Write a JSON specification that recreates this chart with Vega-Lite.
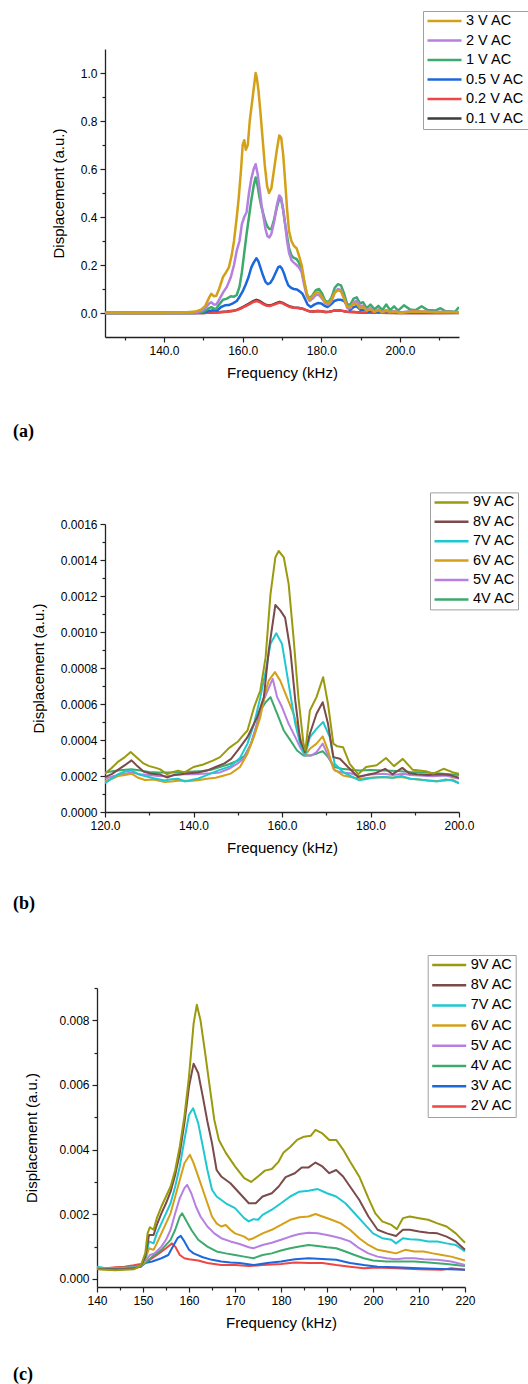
{
"$schema": "https://vega.github.io/schema/vega-lite/v6.json",
"background": "white",
"padding": {"left": 13, "top": 10, "right": 0, "bottom": 0},
"config": {
  "view": {"stroke": null},
  "font": "Liberation Sans",
  "axis": {"grid": false, "domainColor": "#222222", "domainWidth": 1.3, "tickColor": "#222222", "tickWidth": 1.2,
    "labelFont": "Liberation Sans", "labelFontSize": 12, "labelColor": "#000000", "labelPadding": 3,
    "titleFont": "Liberation Sans", "titleFontSize": 15, "titleFontWeight": "normal", "titleColor": "#000000",
    "labelFlush": false, "labelOverlap": false, "labelBound": false},
  "axisX": {"titlePadding": 9},
  "axisY": {"titlePadding": 14},
  "legend": {"symbolType": "stroke", "symbolSize": 1156, "symbolStrokeWidth": 2.5, "clipHeight": 14,
    "labelFont": "Liberation Sans", "labelFontSize": 14.5, "labelColor": "#000000", "labelOffset": 3,
    "padding": 3, "strokeColor": "#a0a0a0", "fillColor": "#ffffff", "labelLimit": 300}
},
"datasets": {
"a": [
{"s":"0.1 V AC","f":125,"v":0},{"s":"0.1 V AC","f":135,"v":0},{"s":"0.1 V AC","f":145,"v":0},{"s":"0.1 V AC","f":150,"v":0},{"s":"0.1 V AC","f":152,"v":0.002},{"s":"0.1 V AC","f":154,"v":0.003},{"s":"0.1 V AC","f":156,"v":0.006},{"s":"0.1 V AC","f":157.5,"v":0.009},{"s":"0.1 V AC","f":158.5,"v":0.013},{"s":"0.1 V AC","f":159.5,"v":0.02},{"s":"0.1 V AC","f":160.5,"v":0.029},{"s":"0.1 V AC","f":161.5,"v":0.038},{"s":"0.1 V AC","f":162.5,"v":0.048},{"s":"0.1 V AC","f":163.5,"v":0.055},{"s":"0.1 V AC","f":164.3,"v":0.05},{"s":"0.1 V AC","f":165.2,"v":0.04},{"s":"0.1 V AC","f":166,"v":0.033},{"s":"0.1 V AC","f":166.8,"v":0.031},{"s":"0.1 V AC","f":167.6,"v":0.035},{"s":"0.1 V AC","f":168.5,"v":0.041},{"s":"0.1 V AC","f":169.4,"v":0.046},{"s":"0.1 V AC","f":170.2,"v":0.042},{"s":"0.1 V AC","f":171,"v":0.035},{"s":"0.1 V AC","f":172,"v":0.027},{"s":"0.1 V AC","f":173,"v":0.023},{"s":"0.1 V AC","f":174,"v":0.022},{"s":"0.1 V AC","f":175,"v":0.019},{"s":"0.1 V AC","f":176,"v":0.013},{"s":"0.1 V AC","f":177,"v":0.007},{"s":"0.1 V AC","f":178,"v":0.006},{"s":"0.1 V AC","f":179,"v":0.008},{"s":"0.1 V AC","f":180,"v":0.007},{"s":"0.1 V AC","f":181,"v":0.004},{"s":"0.1 V AC","f":182,"v":0.005},{"s":"0.1 V AC","f":183,"v":0.009},{"s":"0.1 V AC","f":184,"v":0.011},{"s":"0.1 V AC","f":185,"v":0.01},{"s":"0.1 V AC","f":186.5,"v":0.005},{"s":"0.1 V AC","f":188,"v":0.004},{"s":"0.1 V AC","f":190,"v":0.002},{"s":"0.1 V AC","f":195,"v":0.001},{"s":"0.1 V AC","f":200,"v":0},{"s":"0.1 V AC","f":205,"v":0.001},{"s":"0.1 V AC","f":210,"v":0},{"s":"0.1 V AC","f":215,"v":0},
{"s":"0.2 V AC","f":125,"v":0},{"s":"0.2 V AC","f":135,"v":0},{"s":"0.2 V AC","f":145,"v":0},{"s":"0.2 V AC","f":150,"v":0},{"s":"0.2 V AC","f":152,"v":0.002},{"s":"0.2 V AC","f":154,"v":0.003},{"s":"0.2 V AC","f":156,"v":0.005},{"s":"0.2 V AC","f":157.5,"v":0.008},{"s":"0.2 V AC","f":158.5,"v":0.012},{"s":"0.2 V AC","f":159.5,"v":0.018},{"s":"0.2 V AC","f":160.5,"v":0.027},{"s":"0.2 V AC","f":161.5,"v":0.035},{"s":"0.2 V AC","f":162.5,"v":0.044},{"s":"0.2 V AC","f":163.5,"v":0.05},{"s":"0.2 V AC","f":164.3,"v":0.046},{"s":"0.2 V AC","f":165.2,"v":0.037},{"s":"0.2 V AC","f":166,"v":0.031},{"s":"0.2 V AC","f":166.8,"v":0.029},{"s":"0.2 V AC","f":167.6,"v":0.033},{"s":"0.2 V AC","f":168.5,"v":0.038},{"s":"0.2 V AC","f":169.4,"v":0.043},{"s":"0.2 V AC","f":170.2,"v":0.04},{"s":"0.2 V AC","f":171,"v":0.033},{"s":"0.2 V AC","f":172,"v":0.025},{"s":"0.2 V AC","f":173,"v":0.022},{"s":"0.2 V AC","f":174,"v":0.021},{"s":"0.2 V AC","f":175,"v":0.019},{"s":"0.2 V AC","f":176,"v":0.013},{"s":"0.2 V AC","f":177,"v":0.007},{"s":"0.2 V AC","f":178,"v":0.006},{"s":"0.2 V AC","f":179,"v":0.008},{"s":"0.2 V AC","f":180,"v":0.007},{"s":"0.2 V AC","f":181,"v":0.004},{"s":"0.2 V AC","f":182,"v":0.005},{"s":"0.2 V AC","f":183,"v":0.009},{"s":"0.2 V AC","f":184,"v":0.011},{"s":"0.2 V AC","f":185,"v":0.01},{"s":"0.2 V AC","f":186.5,"v":0.005},{"s":"0.2 V AC","f":188,"v":0.004},{"s":"0.2 V AC","f":190,"v":0.002},{"s":"0.2 V AC","f":195,"v":0.001},{"s":"0.2 V AC","f":200,"v":0},{"s":"0.2 V AC","f":205,"v":0.001},{"s":"0.2 V AC","f":210,"v":0},{"s":"0.2 V AC","f":215,"v":0.001},
{"s":"0.5 V AC","f":125,"v":0},{"s":"0.5 V AC","f":135,"v":0},{"s":"0.5 V AC","f":145,"v":0},{"s":"0.5 V AC","f":148,"v":0},{"s":"0.5 V AC","f":150,"v":0.003},{"s":"0.5 V AC","f":151.5,"v":0.008},{"s":"0.5 V AC","f":152.5,"v":0.012},{"s":"0.5 V AC","f":153.5,"v":0.01},{"s":"0.5 V AC","f":154.5,"v":0.025},{"s":"0.5 V AC","f":155.5,"v":0.032},{"s":"0.5 V AC","f":156.5,"v":0.033},{"s":"0.5 V AC","f":157.5,"v":0.04},{"s":"0.5 V AC","f":158.5,"v":0.05},{"s":"0.5 V AC","f":159.3,"v":0.07},{"s":"0.5 V AC","f":160,"v":0.09},{"s":"0.5 V AC","f":160.8,"v":0.12},{"s":"0.5 V AC","f":161.5,"v":0.15},{"s":"0.5 V AC","f":162.2,"v":0.19},{"s":"0.5 V AC","f":162.8,"v":0.21},{"s":"0.5 V AC","f":163.5,"v":0.228},{"s":"0.5 V AC","f":164,"v":0.215},{"s":"0.5 V AC","f":164.6,"v":0.185},{"s":"0.5 V AC","f":165.2,"v":0.155},{"s":"0.5 V AC","f":165.8,"v":0.13},{"s":"0.5 V AC","f":166.4,"v":0.12},{"s":"0.5 V AC","f":167,"v":0.125},{"s":"0.5 V AC","f":167.6,"v":0.14},{"s":"0.5 V AC","f":168.3,"v":0.165},{"s":"0.5 V AC","f":169,"v":0.19},{"s":"0.5 V AC","f":169.5,"v":0.195},{"s":"0.5 V AC","f":170,"v":0.185},{"s":"0.5 V AC","f":170.5,"v":0.165},{"s":"0.5 V AC","f":171,"v":0.14},{"s":"0.5 V AC","f":171.6,"v":0.115},{"s":"0.5 V AC","f":172.3,"v":0.105},{"s":"0.5 V AC","f":173,"v":0.1},{"s":"0.5 V AC","f":173.8,"v":0.098},{"s":"0.5 V AC","f":174.5,"v":0.09},{"s":"0.5 V AC","f":175.2,"v":0.08},{"s":"0.5 V AC","f":175.8,"v":0.06},{"s":"0.5 V AC","f":176.5,"v":0.035},{"s":"0.5 V AC","f":177.3,"v":0.025},{"s":"0.5 V AC","f":178.2,"v":0.035},{"s":"0.5 V AC","f":179.2,"v":0.042},{"s":"0.5 V AC","f":180,"v":0.04},{"s":"0.5 V AC","f":180.8,"v":0.03},{"s":"0.5 V AC","f":181.6,"v":0.025},{"s":"0.5 V AC","f":182.4,"v":0.035},{"s":"0.5 V AC","f":183.3,"v":0.05},{"s":"0.5 V AC","f":184.2,"v":0.055},{"s":"0.5 V AC","f":185,"v":0.055},{"s":"0.5 V AC","f":185.8,"v":0.05},{"s":"0.5 V AC","f":186.6,"v":0.03},{"s":"0.5 V AC","f":187.3,"v":0.012},{"s":"0.5 V AC","f":188.2,"v":0.025},{"s":"0.5 V AC","f":189,"v":0.028},{"s":"0.5 V AC","f":190,"v":0.012},{"s":"0.5 V AC","f":191,"v":0.015},{"s":"0.5 V AC","f":192,"v":0.005},{"s":"0.5 V AC","f":193,"v":0.01},{"s":"0.5 V AC","f":194.5,"v":0.004},{"s":"0.5 V AC","f":196,"v":0.008},{"s":"0.5 V AC","f":198,"v":0.005},{"s":"0.5 V AC","f":200,"v":0.002},{"s":"0.5 V AC","f":204,"v":0.004},{"s":"0.5 V AC","f":208,"v":0.002},{"s":"0.5 V AC","f":212,"v":0.003},{"s":"0.5 V AC","f":215,"v":0.002},
{"s":"1 V AC","f":125,"v":0},{"s":"1 V AC","f":135,"v":0},{"s":"1 V AC","f":145,"v":0},{"s":"1 V AC","f":148.5,"v":0.001},{"s":"1 V AC","f":150,"v":0.006},{"s":"1 V AC","f":151,"v":0.015},{"s":"1 V AC","f":152,"v":0.025},{"s":"1 V AC","f":152.7,"v":0.018},{"s":"1 V AC","f":153.3,"v":0.018},{"s":"1 V AC","f":154,"v":0.035},{"s":"1 V AC","f":155,"v":0.055},{"s":"1 V AC","f":156,"v":0.06},{"s":"1 V AC","f":157,"v":0.07},{"s":"1 V AC","f":157.8,"v":0.068},{"s":"1 V AC","f":158.5,"v":0.075},{"s":"1 V AC","f":159.2,"v":0.11},{"s":"1 V AC","f":159.8,"v":0.17},{"s":"1 V AC","f":160.4,"v":0.25},{"s":"1 V AC","f":161,"v":0.33},{"s":"1 V AC","f":161.6,"v":0.4},{"s":"1 V AC","f":162.2,"v":0.47},{"s":"1 V AC","f":162.8,"v":0.53},{"s":"1 V AC","f":163.3,"v":0.565},{"s":"1 V AC","f":163.8,"v":0.53},{"s":"1 V AC","f":164.3,"v":0.48},{"s":"1 V AC","f":164.8,"v":0.44},{"s":"1 V AC","f":165.3,"v":0.41},{"s":"1 V AC","f":165.8,"v":0.38},{"s":"1 V AC","f":166.3,"v":0.36},{"s":"1 V AC","f":166.8,"v":0.35},{"s":"1 V AC","f":167.3,"v":0.35},{"s":"1 V AC","f":168,"v":0.39},{"s":"1 V AC","f":168.7,"v":0.44},{"s":"1 V AC","f":169.3,"v":0.475},{"s":"1 V AC","f":169.8,"v":0.47},{"s":"1 V AC","f":170.3,"v":0.43},{"s":"1 V AC","f":170.8,"v":0.37},{"s":"1 V AC","f":171.3,"v":0.32},{"s":"1 V AC","f":171.8,"v":0.27},{"s":"1 V AC","f":172.4,"v":0.24},{"s":"1 V AC","f":173,"v":0.23},{"s":"1 V AC","f":173.7,"v":0.225},{"s":"1 V AC","f":174.3,"v":0.21},{"s":"1 V AC","f":175,"v":0.18},{"s":"1 V AC","f":175.6,"v":0.13},{"s":"1 V AC","f":176.3,"v":0.08},{"s":"1 V AC","f":177,"v":0.06},{"s":"1 V AC","f":177.8,"v":0.075},{"s":"1 V AC","f":178.6,"v":0.095},{"s":"1 V AC","f":179.4,"v":0.1},{"s":"1 V AC","f":180.2,"v":0.08},{"s":"1 V AC","f":181,"v":0.05},{"s":"1 V AC","f":181.8,"v":0.045},{"s":"1 V AC","f":182.6,"v":0.065},{"s":"1 V AC","f":183.4,"v":0.105},{"s":"1 V AC","f":184.2,"v":0.12},{"s":"1 V AC","f":185,"v":0.115},{"s":"1 V AC","f":185.8,"v":0.08},{"s":"1 V AC","f":186.6,"v":0.035},{"s":"1 V AC","f":187.4,"v":0.035},{"s":"1 V AC","f":188.2,"v":0.06},{"s":"1 V AC","f":189,"v":0.065},{"s":"1 V AC","f":189.8,"v":0.04},{"s":"1 V AC","f":190.6,"v":0.045},{"s":"1 V AC","f":191.5,"v":0.02},{"s":"1 V AC","f":192.5,"v":0.035},{"s":"1 V AC","f":193.5,"v":0.015},{"s":"1 V AC","f":194.5,"v":0.03},{"s":"1 V AC","f":195.5,"v":0.012},{"s":"1 V AC","f":196.5,"v":0.035},{"s":"1 V AC","f":197.5,"v":0.012},{"s":"1 V AC","f":198.5,"v":0.028},{"s":"1 V AC","f":199.5,"v":0.01},{"s":"1 V AC","f":201,"v":0.032},{"s":"1 V AC","f":202.5,"v":0.015},{"s":"1 V AC","f":204,"v":0.012},{"s":"1 V AC","f":205.5,"v":0.028},{"s":"1 V AC","f":207,"v":0.012},{"s":"1 V AC","f":209,"v":0.01},{"s":"1 V AC","f":210.3,"v":0.02},{"s":"1 V AC","f":211.5,"v":0.008},{"s":"1 V AC","f":213,"v":0.006},{"s":"1 V AC","f":214,"v":0.005},{"s":"1 V AC","f":215,"v":0.025},
{"s":"2 V AC","f":125,"v":0},{"s":"2 V AC","f":135,"v":0},{"s":"2 V AC","f":145,"v":0},{"s":"2 V AC","f":148,"v":0.002},{"s":"2 V AC","f":149.5,"v":0.008},{"s":"2 V AC","f":150.5,"v":0.02},{"s":"2 V AC","f":151.5,"v":0.04},{"s":"2 V AC","f":152,"v":0.045},{"s":"2 V AC","f":152.7,"v":0.035},{"s":"2 V AC","f":153.3,"v":0.035},{"s":"2 V AC","f":154,"v":0.055},{"s":"2 V AC","f":155,"v":0.085},{"s":"2 V AC","f":156,"v":0.11},{"s":"2 V AC","f":157,"v":0.15},{"s":"2 V AC","f":157.8,"v":0.2},{"s":"2 V AC","f":158.5,"v":0.26},{"s":"2 V AC","f":159.2,"v":0.3},{"s":"2 V AC","f":159.8,"v":0.37},{"s":"2 V AC","f":160.4,"v":0.4},{"s":"2 V AC","f":161,"v":0.42},{"s":"2 V AC","f":161.6,"v":0.5},{"s":"2 V AC","f":162.2,"v":0.56},{"s":"2 V AC","f":162.8,"v":0.6},{"s":"2 V AC","f":163.3,"v":0.62},{"s":"2 V AC","f":163.8,"v":0.58},{"s":"2 V AC","f":164.3,"v":0.52},{"s":"2 V AC","f":164.8,"v":0.45},{"s":"2 V AC","f":165.3,"v":0.4},{"s":"2 V AC","f":165.8,"v":0.35},{"s":"2 V AC","f":166.3,"v":0.32},{"s":"2 V AC","f":166.8,"v":0.315},{"s":"2 V AC","f":167.3,"v":0.33},{"s":"2 V AC","f":168,"v":0.38},{"s":"2 V AC","f":168.7,"v":0.45},{"s":"2 V AC","f":169.3,"v":0.49},{"s":"2 V AC","f":169.8,"v":0.48},{"s":"2 V AC","f":170.3,"v":0.43},{"s":"2 V AC","f":170.8,"v":0.37},{"s":"2 V AC","f":171.3,"v":0.3},{"s":"2 V AC","f":171.8,"v":0.25},{"s":"2 V AC","f":172.4,"v":0.22},{"s":"2 V AC","f":173,"v":0.21},{"s":"2 V AC","f":173.7,"v":0.2},{"s":"2 V AC","f":174.3,"v":0.19},{"s":"2 V AC","f":175,"v":0.17},{"s":"2 V AC","f":175.6,"v":0.12},{"s":"2 V AC","f":176.3,"v":0.07},{"s":"2 V AC","f":177,"v":0.05},{"s":"2 V AC","f":177.8,"v":0.06},{"s":"2 V AC","f":178.6,"v":0.075},{"s":"2 V AC","f":179.4,"v":0.075},{"s":"2 V AC","f":180.2,"v":0.06},{"s":"2 V AC","f":181,"v":0.04},{"s":"2 V AC","f":181.8,"v":0.035},{"s":"2 V AC","f":182.6,"v":0.05},{"s":"2 V AC","f":183.4,"v":0.085},{"s":"2 V AC","f":184.2,"v":0.1},{"s":"2 V AC","f":185,"v":0.095},{"s":"2 V AC","f":185.8,"v":0.06},{"s":"2 V AC","f":186.6,"v":0.02},{"s":"2 V AC","f":187.4,"v":0.02},{"s":"2 V AC","f":188.2,"v":0.045},{"s":"2 V AC","f":189,"v":0.05},{"s":"2 V AC","f":189.8,"v":0.03},{"s":"2 V AC","f":190.6,"v":0.03},{"s":"2 V AC","f":191.5,"v":0.01},{"s":"2 V AC","f":192.5,"v":0.02},{"s":"2 V AC","f":193.5,"v":0.005},{"s":"2 V AC","f":194.5,"v":0.015},{"s":"2 V AC","f":195.5,"v":0.005},{"s":"2 V AC","f":196.5,"v":0.012},{"s":"2 V AC","f":197.5,"v":0.004},{"s":"2 V AC","f":199,"v":0.008},{"s":"2 V AC","f":200,"v":0.002},{"s":"2 V AC","f":203,"v":0.008},{"s":"2 V AC","f":206,"v":0.006},{"s":"2 V AC","f":209,"v":0.004},{"s":"2 V AC","f":212,"v":0.005},{"s":"2 V AC","f":215,"v":0.003},
{"s":"3 V AC","f":125,"v":0.001},{"s":"3 V AC","f":130,"v":0},{"s":"3 V AC","f":135,"v":0.001},{"s":"3 V AC","f":140,"v":0},{"s":"3 V AC","f":145,"v":0.002},{"s":"3 V AC","f":148,"v":0.006},{"s":"3 V AC","f":149.5,"v":0.015},{"s":"3 V AC","f":150.5,"v":0.03},{"s":"3 V AC","f":151.5,"v":0.065},{"s":"3 V AC","f":152,"v":0.08},{"s":"3 V AC","f":152.7,"v":0.07},{"s":"3 V AC","f":153.3,"v":0.072},{"s":"3 V AC","f":154,"v":0.1},{"s":"3 V AC","f":155,"v":0.15},{"s":"3 V AC","f":155.8,"v":0.17},{"s":"3 V AC","f":156.5,"v":0.19},{"s":"3 V AC","f":157.2,"v":0.24},{"s":"3 V AC","f":157.8,"v":0.3},{"s":"3 V AC","f":158.5,"v":0.4},{"s":"3 V AC","f":159,"v":0.48},{"s":"3 V AC","f":159.6,"v":0.6},{"s":"3 V AC","f":160,"v":0.7},{"s":"3 V AC","f":160.4,"v":0.72},{"s":"3 V AC","f":160.8,"v":0.68},{"s":"3 V AC","f":161.3,"v":0.7},{"s":"3 V AC","f":161.8,"v":0.8},{"s":"3 V AC","f":162.4,"v":0.88},{"s":"3 V AC","f":163,"v":0.96},{"s":"3 V AC","f":163.3,"v":1.0},{"s":"3 V AC","f":163.6,"v":0.98},{"s":"3 V AC","f":164,"v":0.93},{"s":"3 V AC","f":164.5,"v":0.84},{"s":"3 V AC","f":165,"v":0.74},{"s":"3 V AC","f":165.6,"v":0.62},{"s":"3 V AC","f":166.2,"v":0.53},{"s":"3 V AC","f":166.7,"v":0.5},{"s":"3 V AC","f":167.3,"v":0.52},{"s":"3 V AC","f":168,"v":0.6},{"s":"3 V AC","f":168.7,"v":0.68},{"s":"3 V AC","f":169.3,"v":0.74},{"s":"3 V AC","f":169.8,"v":0.73},{"s":"3 V AC","f":170.3,"v":0.66},{"s":"3 V AC","f":170.8,"v":0.55},{"s":"3 V AC","f":171.3,"v":0.43},{"s":"3 V AC","f":171.8,"v":0.34},{"s":"3 V AC","f":172.4,"v":0.3},{"s":"3 V AC","f":173,"v":0.28},{"s":"3 V AC","f":173.7,"v":0.27},{"s":"3 V AC","f":174.3,"v":0.24},{"s":"3 V AC","f":175,"v":0.2},{"s":"3 V AC","f":175.6,"v":0.14},{"s":"3 V AC","f":176.3,"v":0.08},{"s":"3 V AC","f":177,"v":0.055},{"s":"3 V AC","f":177.8,"v":0.07},{"s":"3 V AC","f":178.6,"v":0.085},{"s":"3 V AC","f":179.4,"v":0.085},{"s":"3 V AC","f":180.2,"v":0.065},{"s":"3 V AC","f":181,"v":0.045},{"s":"3 V AC","f":181.8,"v":0.04},{"s":"3 V AC","f":182.6,"v":0.055},{"s":"3 V AC","f":183.4,"v":0.085},{"s":"3 V AC","f":184.2,"v":0.095},{"s":"3 V AC","f":185,"v":0.09},{"s":"3 V AC","f":185.8,"v":0.06},{"s":"3 V AC","f":186.6,"v":0.025},{"s":"3 V AC","f":187.4,"v":0.025},{"s":"3 V AC","f":188.2,"v":0.04},{"s":"3 V AC","f":189,"v":0.038},{"s":"3 V AC","f":189.8,"v":0.02},{"s":"3 V AC","f":190.6,"v":0.025},{"s":"3 V AC","f":191.5,"v":0.01},{"s":"3 V AC","f":192.5,"v":0.015},{"s":"3 V AC","f":193.5,"v":0.005},{"s":"3 V AC","f":194.5,"v":0.012},{"s":"3 V AC","f":195.5,"v":0.003},{"s":"3 V AC","f":196.5,"v":0.01},{"s":"3 V AC","f":197.5,"v":0.004},{"s":"3 V AC","f":199,"v":0.005},{"s":"3 V AC","f":200,"v":0},{"s":"3 V AC","f":203,"v":0.006},{"s":"3 V AC","f":206,"v":0.005},{"s":"3 V AC","f":209,"v":0.003},{"s":"3 V AC","f":212,"v":0.004},{"s":"3 V AC","f":215,"v":0.002}
],
"b": [
{"s":"4V AC","f":120,"v":0.00022},{"s":"4V AC","f":122,"v":0.000228},{"s":"4V AC","f":124,"v":0.000233},{"s":"4V AC","f":126,"v":0.000237},{"s":"4V AC","f":128,"v":0.00023},{"s":"4V AC","f":130,"v":0.000222},{"s":"4V AC","f":132,"v":0.00022},{"s":"4V AC","f":134,"v":0.00022},{"s":"4V AC","f":136,"v":0.00022},{"s":"4V AC","f":138,"v":0.000222},{"s":"4V AC","f":140,"v":0.000225},{"s":"4V AC","f":142,"v":0.000228},{"s":"4V AC","f":144,"v":0.000235},{"s":"4V AC","f":146,"v":0.00025},{"s":"4V AC","f":148,"v":0.000265},{"s":"4V AC","f":150,"v":0.000285},{"s":"4V AC","f":151.5,"v":0.00031},{"s":"4V AC","f":153,"v":0.00038},{"s":"4V AC","f":154,"v":0.00046},{"s":"4V AC","f":155.1,"v":0.000564},{"s":"4V AC","f":156.3,"v":0.00061},{"s":"4V AC","f":157.4,"v":0.000638},{"s":"4V AC","f":158.9,"v":0.000546},{"s":"4V AC","f":160.4,"v":0.000453},{"s":"4V AC","f":161.9,"v":0.000398},{"s":"4V AC","f":163.4,"v":0.000342},{"s":"4V AC","f":164.85,"v":0.000314},{"s":"4V AC","f":166.3,"v":0.000314},{"s":"4V AC","f":167.8,"v":0.000324},{"s":"4V AC","f":169.2,"v":0.000338},{"s":"4V AC","f":170.4,"v":0.000305},{"s":"4V AC","f":171.9,"v":0.00025},{"s":"4V AC","f":173.5,"v":0.00024},{"s":"4V AC","f":175.5,"v":0.000235},{"s":"4V AC","f":177.5,"v":0.00023},{"s":"4V AC","f":180,"v":0.000233},{"s":"4V AC","f":183,"v":0.00023},{"s":"4V AC","f":186,"v":0.000228},{"s":"4V AC","f":189,"v":0.000222},{"s":"4V AC","f":192,"v":0.00022},{"s":"4V AC","f":195,"v":0.000215},{"s":"4V AC","f":198,"v":0.00021},{"s":"4V AC","f":200,"v":0.000205},
{"s":"5V AC","f":120,"v":0.000185},{"s":"5V AC","f":122,"v":0.0002},{"s":"5V AC","f":124,"v":0.00021},{"s":"5V AC","f":126,"v":0.00022},{"s":"5V AC","f":128,"v":0.00021},{"s":"5V AC","f":130,"v":0.000205},{"s":"5V AC","f":132,"v":0.0002},{"s":"5V AC","f":134,"v":0.000198},{"s":"5V AC","f":136,"v":0.000205},{"s":"5V AC","f":138,"v":0.00021},{"s":"5V AC","f":140,"v":0.00021},{"s":"5V AC","f":142,"v":0.000212},{"s":"5V AC","f":144,"v":0.000215},{"s":"5V AC","f":146,"v":0.00022},{"s":"5V AC","f":148,"v":0.00024},{"s":"5V AC","f":150,"v":0.00027},{"s":"5V AC","f":151.5,"v":0.0003},{"s":"5V AC","f":153,"v":0.00038},{"s":"5V AC","f":154.5,"v":0.0005},{"s":"5V AC","f":156,"v":0.00063},{"s":"5V AC","f":157.4,"v":0.000712},{"s":"5V AC","f":157.9,"v":0.00074},{"s":"5V AC","f":158.9,"v":0.000638},{"s":"5V AC","f":160,"v":0.000583},{"s":"5V AC","f":161.5,"v":0.00049},{"s":"5V AC","f":163,"v":0.000416},{"s":"5V AC","f":164.1,"v":0.00036},{"s":"5V AC","f":165.2,"v":0.000314},{"s":"5V AC","f":166.7,"v":0.000314},{"s":"5V AC","f":167.8,"v":0.000333},{"s":"5V AC","f":169.2,"v":0.00038},{"s":"5V AC","f":170.4,"v":0.000314},{"s":"5V AC","f":171.9,"v":0.000231},{"s":"5V AC","f":173.5,"v":0.00022},{"s":"5V AC","f":175.5,"v":0.000215},{"s":"5V AC","f":177.5,"v":0.000198},{"s":"5V AC","f":180,"v":0.000208},{"s":"5V AC","f":183,"v":0.000213},{"s":"5V AC","f":185,"v":0.000205},{"s":"5V AC","f":187.5,"v":0.000213},{"s":"5V AC","f":189,"v":0.000205},{"s":"5V AC","f":191,"v":0.000203},{"s":"5V AC","f":194,"v":0.000198},{"s":"5V AC","f":197,"v":0.000203},{"s":"5V AC","f":200,"v":0.000185},
{"s":"6V AC","f":120,"v":0.00017},{"s":"6V AC","f":121.5,"v":0.000185},{"s":"6V AC","f":123,"v":0.0002},{"s":"6V AC","f":124.5,"v":0.000205},{"s":"6V AC","f":126,"v":0.000213},{"s":"6V AC","f":127.5,"v":0.00019},{"s":"6V AC","f":129,"v":0.000178},{"s":"6V AC","f":131,"v":0.00018},{"s":"6V AC","f":133.5,"v":0.000166},{"s":"6V AC","f":135,"v":0.00017},{"s":"6V AC","f":137,"v":0.000175},{"s":"6V AC","f":139,"v":0.000172},{"s":"6V AC","f":141,"v":0.000176},{"s":"6V AC","f":143,"v":0.000185},{"s":"6V AC","f":145,"v":0.00019},{"s":"6V AC","f":146.5,"v":0.0002},{"s":"6V AC","f":148.4,"v":0.000213},{"s":"6V AC","f":150.5,"v":0.00025},{"s":"6V AC","f":152.2,"v":0.000324},{"s":"6V AC","f":153.7,"v":0.00042},{"s":"6V AC","f":155.1,"v":0.000527},{"s":"6V AC","f":156.1,"v":0.00065},{"s":"6V AC","f":157,"v":0.00073},{"s":"6V AC","f":158.4,"v":0.000777},{"s":"6V AC","f":159.6,"v":0.00073},{"s":"6V AC","f":161.1,"v":0.000638},{"s":"6V AC","f":162.6,"v":0.000546},{"s":"6V AC","f":164.1,"v":0.000416},{"s":"6V AC","f":165.2,"v":0.000314},{"s":"6V AC","f":166.3,"v":0.000351},{"s":"6V AC","f":167.8,"v":0.00038},{"s":"6V AC","f":169.2,"v":0.00042},{"s":"6V AC","f":170.4,"v":0.000342},{"s":"6V AC","f":171.6,"v":0.00024},{"s":"6V AC","f":173.8,"v":0.000203},{"s":"6V AC","f":175.5,"v":0.000195},{"s":"6V AC","f":177.5,"v":0.000185},{"s":"6V AC","f":180,"v":0.00019},{"s":"6V AC","f":183,"v":0.000195},{"s":"6V AC","f":185,"v":0.00019},{"s":"6V AC","f":187,"v":0.000195},{"s":"6V AC","f":189,"v":0.000185},{"s":"6V AC","f":191,"v":0.00018},{"s":"6V AC","f":193,"v":0.000175},{"s":"6V AC","f":195,"v":0.000172},{"s":"6V AC","f":197,"v":0.000175},{"s":"6V AC","f":198.5,"v":0.00018},{"s":"6V AC","f":200,"v":0.00016},
{"s":"7V AC","f":120,"v":0.00016},{"s":"7V AC","f":121.5,"v":0.000185},{"s":"7V AC","f":123,"v":0.00021},{"s":"7V AC","f":124.5,"v":0.000225},{"s":"7V AC","f":126,"v":0.000231},{"s":"7V AC","f":127.5,"v":0.00021},{"s":"7V AC","f":129,"v":0.0002},{"s":"7V AC","f":131,"v":0.000188},{"s":"7V AC","f":133.5,"v":0.000175},{"s":"7V AC","f":135,"v":0.000182},{"s":"7V AC","f":136.5,"v":0.000185},{"s":"7V AC","f":138,"v":0.00017},{"s":"7V AC","f":140,"v":0.00018},{"s":"7V AC","f":141,"v":0.000185},{"s":"7V AC","f":143,"v":0.000205},{"s":"7V AC","f":145.5,"v":0.00023},{"s":"7V AC","f":148.4,"v":0.000255},{"s":"7V AC","f":150.5,"v":0.0003},{"s":"7V AC","f":152.2,"v":0.00038},{"s":"7V AC","f":153.7,"v":0.00049},{"s":"7V AC","f":155.1,"v":0.000638},{"s":"7V AC","f":156.3,"v":0.00078},{"s":"7V AC","f":157.4,"v":0.000934},{"s":"7V AC","f":158.7,"v":0.000993},{"s":"7V AC","f":160,"v":0.000934},{"s":"7V AC","f":161.5,"v":0.000712},{"s":"7V AC","f":163,"v":0.00049},{"s":"7V AC","f":164.1,"v":0.00038},{"s":"7V AC","f":165.2,"v":0.000314},{"s":"7V AC","f":166.3,"v":0.000416},{"s":"7V AC","f":167.8,"v":0.000462},{"s":"7V AC","f":169.3,"v":0.0005},{"s":"7V AC","f":170.8,"v":0.000416},{"s":"7V AC","f":171.9,"v":0.000268},{"s":"7V AC","f":173.8,"v":0.000222},{"s":"7V AC","f":175.5,"v":0.0002},{"s":"7V AC","f":177.5,"v":0.000176},{"s":"7V AC","f":180.5,"v":0.00019},{"s":"7V AC","f":183,"v":0.000195},{"s":"7V AC","f":185,"v":0.00019},{"s":"7V AC","f":187,"v":0.0002},{"s":"7V AC","f":189,"v":0.000185},{"s":"7V AC","f":191,"v":0.00018},{"s":"7V AC","f":193,"v":0.000175},{"s":"7V AC","f":195,"v":0.00017},{"s":"7V AC","f":197,"v":0.00018},{"s":"7V AC","f":198.5,"v":0.000175},{"s":"7V AC","f":200,"v":0.00016},
{"s":"8V AC","f":120,"v":0.000194},{"s":"8V AC","f":121.5,"v":0.00021},{"s":"8V AC","f":123,"v":0.000235},{"s":"8V AC","f":124.5,"v":0.00026},{"s":"8V AC","f":126,"v":0.000287},{"s":"8V AC","f":127.3,"v":0.000255},{"s":"8V AC","f":128.7,"v":0.000225},{"s":"8V AC","f":130.5,"v":0.000212},{"s":"8V AC","f":132.5,"v":0.000208},{"s":"8V AC","f":134,"v":0.000192},{"s":"8V AC","f":135.5,"v":0.000205},{"s":"8V AC","f":137,"v":0.00021},{"s":"8V AC","f":139,"v":0.000215},{"s":"8V AC","f":141,"v":0.00022},{"s":"8V AC","f":143,"v":0.00023},{"s":"8V AC","f":145,"v":0.00025},{"s":"8V AC","f":147,"v":0.00027},{"s":"8V AC","f":148.5,"v":0.000295},{"s":"8V AC","f":150,"v":0.000342},{"s":"8V AC","f":152.2,"v":0.000416},{"s":"8V AC","f":154.4,"v":0.000527},{"s":"8V AC","f":155.9,"v":0.000638},{"s":"8V AC","f":157,"v":0.000897},{"s":"8V AC","f":158.5,"v":0.00115},{"s":"8V AC","f":159.6,"v":0.00112},{"s":"8V AC","f":160.7,"v":0.00108},{"s":"8V AC","f":161.9,"v":0.000897},{"s":"8V AC","f":163,"v":0.00062},{"s":"8V AC","f":164.1,"v":0.000398},{"s":"8V AC","f":165.2,"v":0.000333},{"s":"8V AC","f":166.3,"v":0.000435},{"s":"8V AC","f":167.8,"v":0.000546},{"s":"8V AC","f":169.2,"v":0.00061},{"s":"8V AC","f":170.4,"v":0.00049},{"s":"8V AC","f":171.6,"v":0.000305},{"s":"8V AC","f":173.1,"v":0.000296},{"s":"8V AC","f":174.9,"v":0.00025},{"s":"8V AC","f":177.2,"v":0.000194},{"s":"8V AC","f":179,"v":0.000205},{"s":"8V AC","f":181,"v":0.000215},{"s":"8V AC","f":183.3,"v":0.00024},{"s":"8V AC","f":185,"v":0.00021},{"s":"8V AC","f":187.2,"v":0.000245},{"s":"8V AC","f":188.7,"v":0.000215},{"s":"8V AC","f":190.5,"v":0.00021},{"s":"8V AC","f":193,"v":0.000205},{"s":"8V AC","f":196,"v":0.00021},{"s":"8V AC","f":198,"v":0.000205},{"s":"8V AC","f":200,"v":0.00019},
{"s":"9V AC","f":120,"v":0.000213},{"s":"9V AC","f":121.5,"v":0.000245},{"s":"9V AC","f":123,"v":0.00028},{"s":"9V AC","f":124.5,"v":0.000305},{"s":"9V AC","f":125.8,"v":0.000333},{"s":"9V AC","f":127.3,"v":0.0003},{"s":"9V AC","f":128.7,"v":0.00027},{"s":"9V AC","f":130,"v":0.000255},{"s":"9V AC","f":131.5,"v":0.000245},{"s":"9V AC","f":132.5,"v":0.000237},{"s":"9V AC","f":134,"v":0.00021},{"s":"9V AC","f":135,"v":0.00022},{"s":"9V AC","f":136.5,"v":0.00023},{"s":"9V AC","f":138,"v":0.00022},{"s":"9V AC","f":140,"v":0.00025},{"s":"9V AC","f":142.2,"v":0.000264},{"s":"9V AC","f":144.5,"v":0.000287},{"s":"9V AC","f":146,"v":0.000305},{"s":"9V AC","f":148,"v":0.000355},{"s":"9V AC","f":150,"v":0.00039},{"s":"9V AC","f":151,"v":0.00042},{"s":"9V AC","f":152.2,"v":0.000453},{"s":"9V AC","f":153.7,"v":0.000583},{"s":"9V AC","f":155.1,"v":0.000675},{"s":"9V AC","f":156.3,"v":0.00086},{"s":"9V AC","f":157.4,"v":0.00121},{"s":"9V AC","f":158.5,"v":0.001415},{"s":"9V AC","f":159.25,"v":0.00145},{"s":"9V AC","f":160.4,"v":0.001415},{"s":"9V AC","f":161.5,"v":0.001267},{"s":"9V AC","f":162.6,"v":0.00097},{"s":"9V AC","f":163.7,"v":0.000638},{"s":"9V AC","f":164.85,"v":0.00038},{"s":"9V AC","f":165.3,"v":0.000342},{"s":"9V AC","f":166.3,"v":0.000564},{"s":"9V AC","f":167.8,"v":0.000638},{"s":"9V AC","f":169.3,"v":0.000749},{"s":"9V AC","f":170.4,"v":0.0006},{"s":"9V AC","f":171.6,"v":0.00038},{"s":"9V AC","f":172.5,"v":0.000365},{"s":"9V AC","f":173.8,"v":0.00036},{"s":"9V AC","f":175.3,"v":0.000268},{"s":"9V AC","f":177.2,"v":0.00021},{"s":"9V AC","f":179,"v":0.00025},{"s":"9V AC","f":181.4,"v":0.00026},{"s":"9V AC","f":183.5,"v":0.0003},{"s":"9V AC","f":185.3,"v":0.000255},{"s":"9V AC","f":187.3,"v":0.000295},{"s":"9V AC","f":189.5,"v":0.000235},{"s":"9V AC","f":192.5,"v":0.000227},{"s":"9V AC","f":194.2,"v":0.000213},{"s":"9V AC","f":196.5,"v":0.00024},{"s":"9V AC","f":198.7,"v":0.00022},{"s":"9V AC","f":200,"v":0.000213}
],
"c": [
{"s":"2V AC","f":140,"v":0.00031},{"s":"2V AC","f":142,"v":0.00033},{"s":"2V AC","f":144,"v":0.00036},{"s":"2V AC","f":146,"v":0.00038},{"s":"2V AC","f":148,"v":0.00042},{"s":"2V AC","f":149.5,"v":0.00046},{"s":"2V AC","f":150.5,"v":0.0005},{"s":"2V AC","f":152,"v":0.00064},{"s":"2V AC","f":153.5,"v":0.00079},{"s":"2V AC","f":155,"v":0.00095},{"s":"2V AC","f":156.3,"v":0.0011},{"s":"2V AC","f":157,"v":0.001},{"s":"2V AC","f":158,"v":0.00074},{"s":"2V AC","f":159,"v":0.00064},{"s":"2V AC","f":160,"v":0.00061},{"s":"2V AC","f":162,"v":0.00057},{"s":"2V AC","f":164,"v":0.00049},{"s":"2V AC","f":167,"v":0.00043},{"s":"2V AC","f":170,"v":0.00043},{"s":"2V AC","f":173,"v":0.0004},{"s":"2V AC","f":176,"v":0.00043},{"s":"2V AC","f":180,"v":0.00046},{"s":"2V AC","f":183,"v":0.00051},{"s":"2V AC","f":186,"v":0.00049},{"s":"2V AC","f":189,"v":0.00049},{"s":"2V AC","f":192,"v":0.00043},{"s":"2V AC","f":195,"v":0.00038},{"s":"2V AC","f":198,"v":0.00033},{"s":"2V AC","f":201,"v":0.00035},{"s":"2V AC","f":205,"v":0.00033},{"s":"2V AC","f":210,"v":0.0003},{"s":"2V AC","f":215,"v":0.00028},{"s":"2V AC","f":217,"v":0.00033},{"s":"2V AC","f":220,"v":0.00028},
{"s":"3V AC","f":140,"v":0.00032},{"s":"3V AC","f":142,"v":0.00031},{"s":"3V AC","f":144,"v":0.00032},{"s":"3V AC","f":146,"v":0.00033},{"s":"3V AC","f":148,"v":0.00034},{"s":"3V AC","f":149.5,"v":0.00038},{"s":"3V AC","f":150.5,"v":0.00049},{"s":"3V AC","f":152,"v":0.00054},{"s":"3V AC","f":154,"v":0.00064},{"s":"3V AC","f":155.5,"v":0.00074},{"s":"3V AC","f":156.5,"v":0.001},{"s":"3V AC","f":157.5,"v":0.00126},{"s":"3V AC","f":158.2,"v":0.00133},{"s":"3V AC","f":159,"v":0.00116},{"s":"3V AC","f":160,"v":0.0009},{"s":"3V AC","f":161,"v":0.00079},{"s":"3V AC","f":163,"v":0.00067},{"s":"3V AC","f":165,"v":0.00059},{"s":"3V AC","f":167,"v":0.00054},{"s":"3V AC","f":169,"v":0.00051},{"s":"3V AC","f":171,"v":0.00049},{"s":"3V AC","f":174,"v":0.00043},{"s":"3V AC","f":177,"v":0.00049},{"s":"3V AC","f":180,"v":0.00054},{"s":"3V AC","f":183,"v":0.00061},{"s":"3V AC","f":186,"v":0.00064},{"s":"3V AC","f":189,"v":0.00062},{"s":"3V AC","f":192,"v":0.00059},{"s":"3V AC","f":195,"v":0.00049},{"s":"3V AC","f":198,"v":0.00043},{"s":"3V AC","f":201,"v":0.00038},{"s":"3V AC","f":205,"v":0.00036},{"s":"3V AC","f":210,"v":0.00033},{"s":"3V AC","f":215,"v":0.00031},{"s":"3V AC","f":220,"v":0.00028},
{"s":"4V AC","f":140,"v":0.00034},{"s":"4V AC","f":142,"v":0.00033},{"s":"4V AC","f":144,"v":0.00034},{"s":"4V AC","f":146,"v":0.00035},{"s":"4V AC","f":148,"v":0.00037},{"s":"4V AC","f":149.5,"v":0.00042},{"s":"4V AC","f":150.5,"v":0.00049},{"s":"4V AC","f":152,"v":0.00069},{"s":"4V AC","f":154,"v":0.0009},{"s":"4V AC","f":156,"v":0.00121},{"s":"4V AC","f":157,"v":0.00152},{"s":"4V AC","f":158,"v":0.00193},{"s":"4V AC","f":158.5,"v":0.00203},{"s":"4V AC","f":159.5,"v":0.00178},{"s":"4V AC","f":160.5,"v":0.00152},{"s":"4V AC","f":162,"v":0.00121},{"s":"4V AC","f":164,"v":0.001},{"s":"4V AC","f":166,"v":0.00085},{"s":"4V AC","f":168,"v":0.00079},{"s":"4V AC","f":170,"v":0.00074},{"s":"4V AC","f":172,"v":0.00069},{"s":"4V AC","f":174,"v":0.00064},{"s":"4V AC","f":176,"v":0.00074},{"s":"4V AC","f":178,"v":0.00079},{"s":"4V AC","f":180,"v":0.00088},{"s":"4V AC","f":182,"v":0.00095},{"s":"4V AC","f":184,"v":0.001},{"s":"4V AC","f":186,"v":0.00105},{"s":"4V AC","f":188,"v":0.00102},{"s":"4V AC","f":190,"v":0.00098},{"s":"4V AC","f":192,"v":0.00095},{"s":"4V AC","f":194,"v":0.00085},{"s":"4V AC","f":196,"v":0.00074},{"s":"4V AC","f":198,"v":0.00064},{"s":"4V AC","f":200,"v":0.00057},{"s":"4V AC","f":203,"v":0.00054},{"s":"4V AC","f":206,"v":0.00054},{"s":"4V AC","f":209,"v":0.00054},{"s":"4V AC","f":212,"v":0.00051},{"s":"4V AC","f":216,"v":0.00046},{"s":"4V AC","f":220,"v":0.0004},
{"s":"5V AC","f":140,"v":0.00032},{"s":"5V AC","f":142,"v":0.00032},{"s":"5V AC","f":144,"v":0.00033},{"s":"5V AC","f":146,"v":0.00034},{"s":"5V AC","f":148,"v":0.00036},{"s":"5V AC","f":149.5,"v":0.0004},{"s":"5V AC","f":150.5,"v":0.00054},{"s":"5V AC","f":151.5,"v":0.00074},{"s":"5V AC","f":152.5,"v":0.00079},{"s":"5V AC","f":154,"v":0.001},{"s":"5V AC","f":155,"v":0.00121},{"s":"5V AC","f":156,"v":0.00152},{"s":"5V AC","f":157,"v":0.00203},{"s":"5V AC","f":158,"v":0.0025},{"s":"5V AC","f":159,"v":0.00281},{"s":"5V AC","f":159.6,"v":0.00291},{"s":"5V AC","f":160.5,"v":0.00265},{"s":"5V AC","f":161.5,"v":0.00224},{"s":"5V AC","f":162.5,"v":0.00193},{"s":"5V AC","f":164,"v":0.00162},{"s":"5V AC","f":165.5,"v":0.00141},{"s":"5V AC","f":167,"v":0.00126},{"s":"5V AC","f":169,"v":0.00116},{"s":"5V AC","f":171,"v":0.00108},{"s":"5V AC","f":173,"v":0.00098},{"s":"5V AC","f":174,"v":0.00095},{"s":"5V AC","f":176,"v":0.00105},{"s":"5V AC","f":178,"v":0.00112},{"s":"5V AC","f":180,"v":0.00121},{"s":"5V AC","f":182,"v":0.00131},{"s":"5V AC","f":184,"v":0.00139},{"s":"5V AC","f":186,"v":0.00143},{"s":"5V AC","f":188,"v":0.00141},{"s":"5V AC","f":190,"v":0.00136},{"s":"5V AC","f":191.5,"v":0.00131},{"s":"5V AC","f":193,"v":0.00126},{"s":"5V AC","f":195,"v":0.00116},{"s":"5V AC","f":197,"v":0.00095},{"s":"5V AC","f":199,"v":0.00079},{"s":"5V AC","f":201,"v":0.00069},{"s":"5V AC","f":203,"v":0.00064},{"s":"5V AC","f":205,"v":0.00061},{"s":"5V AC","f":207,"v":0.00064},{"s":"5V AC","f":209,"v":0.00064},{"s":"5V AC","f":211,"v":0.00061},{"s":"5V AC","f":214,"v":0.00059},{"s":"5V AC","f":217,"v":0.00054},{"s":"5V AC","f":220,"v":0.00043},
{"s":"6V AC","f":140,"v":0.00033},{"s":"6V AC","f":142,"v":0.00031},{"s":"6V AC","f":144,"v":0.00031},{"s":"6V AC","f":146,"v":0.00032},{"s":"6V AC","f":148,"v":0.00034},{"s":"6V AC","f":149.5,"v":0.00038},{"s":"6V AC","f":150.5,"v":0.00059},{"s":"6V AC","f":151.3,"v":0.00095},{"s":"6V AC","f":152.3,"v":0.0009},{"s":"6V AC","f":153,"v":0.0011},{"s":"6V AC","f":154,"v":0.00141},{"s":"6V AC","f":155,"v":0.00172},{"s":"6V AC","f":156,"v":0.00203},{"s":"6V AC","f":157,"v":0.00255},{"s":"6V AC","f":158,"v":0.00306},{"s":"6V AC","f":159,"v":0.00358},{"s":"6V AC","f":160.2,"v":0.00384},{"s":"6V AC","f":161,"v":0.00358},{"s":"6V AC","f":162,"v":0.00317},{"s":"6V AC","f":163,"v":0.00276},{"s":"6V AC","f":164,"v":0.00234},{"s":"6V AC","f":165,"v":0.00193},{"s":"6V AC","f":166,"v":0.00172},{"s":"6V AC","f":167,"v":0.00162},{"s":"6V AC","f":168,"v":0.00167},{"s":"6V AC","f":169,"v":0.00152},{"s":"6V AC","f":170,"v":0.00141},{"s":"6V AC","f":172,"v":0.00131},{"s":"6V AC","f":173,"v":0.00121},{"s":"6V AC","f":174,"v":0.00126},{"s":"6V AC","f":176,"v":0.00141},{"s":"6V AC","f":178,"v":0.00152},{"s":"6V AC","f":180,"v":0.00167},{"s":"6V AC","f":182,"v":0.00183},{"s":"6V AC","f":184,"v":0.00191},{"s":"6V AC","f":186,"v":0.00193},{"s":"6V AC","f":187.5,"v":0.00201},{"s":"6V AC","f":189,"v":0.00193},{"s":"6V AC","f":191,"v":0.00183},{"s":"6V AC","f":193,"v":0.00172},{"s":"6V AC","f":195,"v":0.00152},{"s":"6V AC","f":197,"v":0.00126},{"s":"6V AC","f":199,"v":0.00105},{"s":"6V AC","f":201,"v":0.0009},{"s":"6V AC","f":203,"v":0.00085},{"s":"6V AC","f":205,"v":0.00079},{"s":"6V AC","f":207,"v":0.0009},{"s":"6V AC","f":209,"v":0.00085},{"s":"6V AC","f":211,"v":0.00085},{"s":"6V AC","f":213,"v":0.00079},{"s":"6V AC","f":215,"v":0.00074},{"s":"6V AC","f":217,"v":0.00069},{"s":"6V AC","f":220,"v":0.00057},
{"s":"7V AC","f":140,"v":0.00038},{"s":"7V AC","f":142,"v":0.00033},{"s":"7V AC","f":144,"v":0.00032},{"s":"7V AC","f":146,"v":0.00033},{"s":"7V AC","f":148,"v":0.00035},{"s":"7V AC","f":149.5,"v":0.00038},{"s":"7V AC","f":150.5,"v":0.00064},{"s":"7V AC","f":151.3,"v":0.00116},{"s":"7V AC","f":152.3,"v":0.0011},{"s":"7V AC","f":153,"v":0.00141},{"s":"7V AC","f":154,"v":0.00172},{"s":"7V AC","f":155,"v":0.00203},{"s":"7V AC","f":156,"v":0.00234},{"s":"7V AC","f":157,"v":0.00286},{"s":"7V AC","f":158,"v":0.00348},{"s":"7V AC","f":159,"v":0.0043},{"s":"7V AC","f":160,"v":0.00508},{"s":"7V AC","f":160.9,"v":0.00528},{"s":"7V AC","f":162,"v":0.00482},{"s":"7V AC","f":163,"v":0.0041},{"s":"7V AC","f":164,"v":0.00337},{"s":"7V AC","f":165,"v":0.00276},{"s":"7V AC","f":166,"v":0.00255},{"s":"7V AC","f":168,"v":0.00234},{"s":"7V AC","f":170,"v":0.00219},{"s":"7V AC","f":172,"v":0.00188},{"s":"7V AC","f":173,"v":0.00178},{"s":"7V AC","f":174,"v":0.00185},{"s":"7V AC","f":175,"v":0.00183},{"s":"7V AC","f":176,"v":0.00198},{"s":"7V AC","f":178,"v":0.00214},{"s":"7V AC","f":180,"v":0.00234},{"s":"7V AC","f":182,"v":0.00255},{"s":"7V AC","f":184,"v":0.0027},{"s":"7V AC","f":186,"v":0.00273},{"s":"7V AC","f":188,"v":0.00278},{"s":"7V AC","f":190,"v":0.00265},{"s":"7V AC","f":192,"v":0.00255},{"s":"7V AC","f":194,"v":0.00234},{"s":"7V AC","f":196,"v":0.00203},{"s":"7V AC","f":198,"v":0.00172},{"s":"7V AC","f":200,"v":0.00141},{"s":"7V AC","f":202,"v":0.00126},{"s":"7V AC","f":204,"v":0.00121},{"s":"7V AC","f":205,"v":0.0011},{"s":"7V AC","f":206.5,"v":0.00126},{"s":"7V AC","f":208,"v":0.00123},{"s":"7V AC","f":210,"v":0.00121},{"s":"7V AC","f":212,"v":0.00116},{"s":"7V AC","f":214,"v":0.00116},{"s":"7V AC","f":216,"v":0.0011},{"s":"7V AC","f":218,"v":0.00105},{"s":"7V AC","f":220,"v":0.00085},
{"s":"8V AC","f":140,"v":0.00031},{"s":"8V AC","f":142,"v":0.0003},{"s":"8V AC","f":144,"v":0.0003},{"s":"8V AC","f":146,"v":0.00031},{"s":"8V AC","f":148,"v":0.00033},{"s":"8V AC","f":149.5,"v":0.00038},{"s":"8V AC","f":150.5,"v":0.00069},{"s":"8V AC","f":151.3,"v":0.00136},{"s":"8V AC","f":152.3,"v":0.00136},{"s":"8V AC","f":153,"v":0.00167},{"s":"8V AC","f":154,"v":0.00203},{"s":"8V AC","f":155,"v":0.00234},{"s":"8V AC","f":156,"v":0.0027},{"s":"8V AC","f":157,"v":0.00322},{"s":"8V AC","f":158,"v":0.00389},{"s":"8V AC","f":159,"v":0.00482},{"s":"8V AC","f":160,"v":0.00595},{"s":"8V AC","f":161,"v":0.00666},{"s":"8V AC","f":162,"v":0.00637},{"s":"8V AC","f":163,"v":0.00564},{"s":"8V AC","f":164,"v":0.00487},{"s":"8V AC","f":165,"v":0.0042},{"s":"8V AC","f":166,"v":0.00337},{"s":"8V AC","f":167,"v":0.00317},{"s":"8V AC","f":169,"v":0.00296},{"s":"8V AC","f":171,"v":0.00265},{"s":"8V AC","f":173,"v":0.00234},{"s":"8V AC","f":174.5,"v":0.00234},{"s":"8V AC","f":176,"v":0.00255},{"s":"8V AC","f":178,"v":0.00265},{"s":"8V AC","f":179.5,"v":0.00286},{"s":"8V AC","f":181,"v":0.00315},{"s":"8V AC","f":183,"v":0.00327},{"s":"8V AC","f":184.5,"v":0.00345},{"s":"8V AC","f":186,"v":0.00345},{"s":"8V AC","f":187.5,"v":0.0036},{"s":"8V AC","f":189,"v":0.00348},{"s":"8V AC","f":190.5,"v":0.00327},{"s":"8V AC","f":192,"v":0.00337},{"s":"8V AC","f":193.5,"v":0.00317},{"s":"8V AC","f":195,"v":0.00286},{"s":"8V AC","f":197,"v":0.00245},{"s":"8V AC","f":199,"v":0.00193},{"s":"8V AC","f":201,"v":0.00152},{"s":"8V AC","f":203,"v":0.00141},{"s":"8V AC","f":205,"v":0.00133},{"s":"8V AC","f":206.5,"v":0.00152},{"s":"8V AC","f":208,"v":0.00152},{"s":"8V AC","f":210,"v":0.00147},{"s":"8V AC","f":212,"v":0.00143},{"s":"8V AC","f":214,"v":0.00141},{"s":"8V AC","f":216,"v":0.00131},{"s":"8V AC","f":218,"v":0.00116},{"s":"8V AC","f":220,"v":0.0009},
{"s":"9V AC","f":140,"v":0.0003},{"s":"9V AC","f":142,"v":0.00028},{"s":"9V AC","f":144,"v":0.00027},{"s":"9V AC","f":146,"v":0.00028},{"s":"9V AC","f":148,"v":0.0003},{"s":"9V AC","f":149.5,"v":0.0004},{"s":"9V AC","f":150.5,"v":0.0008},{"s":"9V AC","f":151,"v":0.00141},{"s":"9V AC","f":151.5,"v":0.0016},{"s":"9V AC","f":152.3,"v":0.00152},{"s":"9V AC","f":153,"v":0.00188},{"s":"9V AC","f":154,"v":0.00224},{"s":"9V AC","f":155,"v":0.00255},{"s":"9V AC","f":156,"v":0.00286},{"s":"9V AC","f":157,"v":0.00337},{"s":"9V AC","f":158,"v":0.0041},{"s":"9V AC","f":159,"v":0.00503},{"s":"9V AC","f":160,"v":0.00626},{"s":"9V AC","f":161,"v":0.0079},{"s":"9V AC","f":161.7,"v":0.00848},{"s":"9V AC","f":162.5,"v":0.008},{"s":"9V AC","f":163.5,"v":0.007},{"s":"9V AC","f":164.5,"v":0.00595},{"s":"9V AC","f":165.5,"v":0.00492},{"s":"9V AC","f":166.5,"v":0.0043},{"s":"9V AC","f":168,"v":0.0039},{"s":"9V AC","f":170,"v":0.00348},{"s":"9V AC","f":172,"v":0.00312},{"s":"9V AC","f":173.5,"v":0.003},{"s":"9V AC","f":175,"v":0.00317},{"s":"9V AC","f":176.5,"v":0.00335},{"s":"9V AC","f":178,"v":0.0034},{"s":"9V AC","f":179.5,"v":0.00363},{"s":"9V AC","f":180.5,"v":0.0039},{"s":"9V AC","f":182,"v":0.00408},{"s":"9V AC","f":183.5,"v":0.0043},{"s":"9V AC","f":185,"v":0.0044},{"s":"9V AC","f":186.5,"v":0.00443},{"s":"9V AC","f":187.5,"v":0.00461},{"s":"9V AC","f":189,"v":0.0045},{"s":"9V AC","f":190.5,"v":0.0043},{"s":"9V AC","f":192,"v":0.0043},{"s":"9V AC","f":193.5,"v":0.004},{"s":"9V AC","f":195,"v":0.00363},{"s":"9V AC","f":197,"v":0.00317},{"s":"9V AC","f":199,"v":0.0025},{"s":"9V AC","f":200.5,"v":0.00203},{"s":"9V AC","f":202,"v":0.00178},{"s":"9V AC","f":204,"v":0.00167},{"s":"9V AC","f":205.2,"v":0.00154},{"s":"9V AC","f":206.5,"v":0.00188},{"s":"9V AC","f":208,"v":0.00193},{"s":"9V AC","f":210,"v":0.00188},{"s":"9V AC","f":212,"v":0.00183},{"s":"9V AC","f":214,"v":0.00172},{"s":"9V AC","f":216,"v":0.00162},{"s":"9V AC","f":218,"v":0.00141},{"s":"9V AC","f":220,"v":0.00112}
]
},
"columns": 1,
"spacing": 50,
"resolve": {"scale": {"x": "independent", "y": "independent", "color": "independent"}, "legend": {"color": "independent"}, "axis": {"x": "independent", "y": "independent"}},
"concat": [
{
  "width": 354, "height": 288,
  "data": {"name": "a"},
  "title": {"text": "(a)", "orient": "bottom", "anchor": "start", "frame": "group", "dx": -92, "offset": 43, "font": "Liberation Serif", "fontSize": 18, "fontWeight": "bold", "color": "#000000"},
  "mark": {"type": "line", "strokeWidth": 2.5, "clip": true, "strokeJoin": "round"},
  "encoding": {
    "x": {"field": "f", "type": "quantitative", "scale": {"domain": [125, 215], "nice": false, "zero": false},
      "axis": {"title": "Frequency (kHz)", "values": [130,140,150,160,170,180,190,200,210],
        "labelExpr": "datum.value % 20 == 0 ? format(datum.value, '.1f') : ''",
        "tickSize": {"condition": {"test": "datum.value % 20 == 0", "value": 5}, "value": 3}}},
    "y": {"field": "v", "type": "quantitative", "scale": {"domain": [-0.1, 1.1], "nice": false, "zero": false},
      "axis": {"title": "Displacement (a.u.)", "values": [0,0.1,0.2,0.3,0.4,0.5,0.6,0.7,0.8,0.9,1.0],
        "labelExpr": "round(datum.value*10) % 2 == 0 ? format(datum.value, '.1f') : ''",
        "tickSize": {"condition": {"test": "round(datum.value*10) % 2 == 0", "value": 5}, "value": 3}}},
    "color": {"field": "s", "type": "nominal",
      "scale": {"domain": ["3 V AC","2 V AC","1 V AC","0.5 V AC","0.2 V AC","0.1 V AC"],
        "range": ["#d4a017","#b580e0","#3daa6d","#1b68dd","#f04545","#3c3c3c"]},
      "legend": {"title": null, "orient": "none", "legendX": 318, "legendY": -38, "rowPadding": 4.5}}
  }
},
{
  "columns": 1,
  "spacing": 41,
  "resolve": {"scale": {"x": "independent", "y": "independent", "color": "independent"}, "legend": {"color": "independent"}, "axis": {"x": "independent", "y": "independent"}},
  "concat": [
  {
    "width": 354, "height": 288,
    "data": {"name": "b"},
    "title": {"text": "(b)", "orient": "bottom", "anchor": "start", "frame": "group", "dx": -92, "offset": 40, "font": "Liberation Serif", "fontSize": 18, "fontWeight": "bold", "color": "#000000"},
    "mark": {"type": "line", "strokeWidth": 2, "clip": true, "strokeJoin": "round"},
    "encoding": {
      "x": {"field": "f", "type": "quantitative", "scale": {"domain": [120, 200], "nice": false, "zero": false},
        "axis": {"title": "Frequency (kHz)", "values": [120,130,140,150,160,170,180,190,200],
          "labelExpr": "datum.value % 20 == 0 ? format(datum.value, '.1f') : ''",
          "tickSize": {"condition": {"test": "datum.value % 20 == 0", "value": 5}, "value": 3}}},
      "y": {"field": "v", "type": "quantitative", "scale": {"domain": [0, 0.0016], "nice": false, "zero": false},
        "axis": {"title": "Displacement (a.u.)", "values": [0,0.0001,0.0002,0.0003,0.0004,0.0005,0.0006,0.0007,0.0008,0.0009,0.001,0.0011,0.0012,0.0013,0.0014,0.0015,0.0016],
          "labelExpr": "round(datum.value*10000) % 2 == 0 ? format(datum.value, '.4f') : ''",
          "tickSize": {"condition": {"test": "round(datum.value*10000) % 2 == 0", "value": 5}, "value": 3}}},
      "color": {"field": "s", "type": "nominal",
        "scale": {"domain": ["9V AC","8V AC","7V AC","6V AC","5V AC","4V AC"],
          "range": ["#9a9a0f","#7b4a4a","#1ec8d0","#d4a017","#b580e0","#3daa6d"]},
        "legend": {"title": null, "orient": "none", "legendX": 325, "legendY": -31.6, "rowPadding": 4.4}}
    }
  },
  {
    "width": 360, "height": 299,
    "data": {"name": "c"},
    "title": {"text": "(c)", "orient": "bottom", "anchor": "start", "frame": "group", "dx": -92, "offset": 36, "font": "Liberation Serif", "fontSize": 18, "fontWeight": "bold", "color": "#000000"},
    "mark": {"type": "line", "strokeWidth": 2, "clip": false, "strokeJoin": "round"},
    "encoding": {
      "x": {"field": "f", "type": "quantitative", "scale": {"domain": [140, 220], "range": [-8, 360], "nice": false, "zero": false},
        "axis": {"title": "Frequency (kHz)", "values": [140,145,150,155,160,165,170,175,180,185,190,195,200,205,210,215,220],
          "labelExpr": "datum.value % 10 == 0 ? format(datum.value, 'd') : ''",
          "tickSize": {"condition": {"test": "datum.value % 10 == 0", "value": 5}, "value": 3}}},
      "y": {"field": "v", "type": "quantitative", "scale": {"domain": [-0.00025, 0.009], "nice": false, "zero": false},
        "axis": {"title": "Displacement (a.u.)", "offset": 8, "titlePadding": 19, "values": [0,0.001,0.002,0.003,0.004,0.005,0.006,0.007,0.008,0.009],
          "labelExpr": "round(datum.value*1000) % 2 == 0 ? format(datum.value, '.3f') : ''",
          "tickSize": {"condition": {"test": "round(datum.value*1000) % 2 == 0", "value": 5}, "value": 3}}},
      "color": {"field": "s", "type": "nominal",
        "scale": {"domain": ["9V AC","8V AC","7V AC","6V AC","5V AC","4V AC","3V AC","2V AC"],
          "range": ["#9a9a0f","#7b4a4a","#1ec8d0","#d4a017","#b580e0","#3daa6d","#1b68dd","#f04545"]},
        "legend": {"title": null, "orient": "none", "legendX": 322.7, "legendY": -33, "rowPadding": 5.2}}
    }
  }
  ]
}
]
}
